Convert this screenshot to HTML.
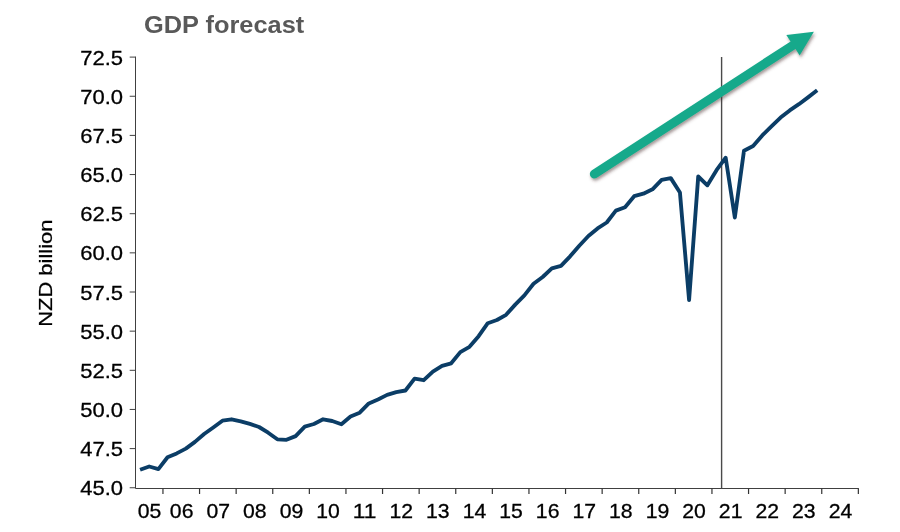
<!DOCTYPE html>
<html><head><meta charset="utf-8"><style>
html,body{margin:0;padding:0;background:#fff;}
svg{display:block;will-change:transform;}
.t{font-family:"Liberation Sans",sans-serif;font-size:20.8px;fill:#000;stroke:#000;stroke-width:0.3px;}
.title{font-family:"Liberation Sans",sans-serif;font-size:23px;font-weight:bold;fill:#595959;}
.yt{font-family:"Liberation Sans",sans-serif;font-size:19.2px;fill:#000;stroke:#000;stroke-width:0.25px;}
</style></head><body>
<svg width="900" height="532" viewBox="0 0 900 532">
<defs><filter id="sh" x="-10%" y="-20%" width="130%" height="150%"><feDropShadow dx="1.2" dy="2.2" stdDeviation="1.5" flood-color="#4a3030" flood-opacity="0.5"/></filter></defs>
<rect width="900" height="532" fill="#fff"/>
<path d="M135.5,56.6 V488.5 H858.8" fill="none" stroke="#404040" stroke-width="1"/>
<path d="M129.7,57.10 H135.5" stroke="#404040" stroke-width="1"/>
<text x="80.3" y="64.70" textLength="42.8" lengthAdjust="spacingAndGlyphs" class="t">72.5</text>
<path d="M129.7,96.25 H135.5" stroke="#404040" stroke-width="1"/>
<text x="80.3" y="103.85" textLength="42.8" lengthAdjust="spacingAndGlyphs" class="t">70.0</text>
<path d="M129.7,135.40 H135.5" stroke="#404040" stroke-width="1"/>
<text x="80.3" y="143.00" textLength="42.8" lengthAdjust="spacingAndGlyphs" class="t">67.5</text>
<path d="M129.7,174.55 H135.5" stroke="#404040" stroke-width="1"/>
<text x="80.3" y="182.15" textLength="42.8" lengthAdjust="spacingAndGlyphs" class="t">65.0</text>
<path d="M129.7,213.70 H135.5" stroke="#404040" stroke-width="1"/>
<text x="80.3" y="221.30" textLength="42.8" lengthAdjust="spacingAndGlyphs" class="t">62.5</text>
<path d="M129.7,252.85 H135.5" stroke="#404040" stroke-width="1"/>
<text x="80.3" y="260.45" textLength="42.8" lengthAdjust="spacingAndGlyphs" class="t">60.0</text>
<path d="M129.7,292.00 H135.5" stroke="#404040" stroke-width="1"/>
<text x="80.3" y="299.60" textLength="42.8" lengthAdjust="spacingAndGlyphs" class="t">57.5</text>
<path d="M129.7,331.15 H135.5" stroke="#404040" stroke-width="1"/>
<text x="80.3" y="338.75" textLength="42.8" lengthAdjust="spacingAndGlyphs" class="t">55.0</text>
<path d="M129.7,370.30 H135.5" stroke="#404040" stroke-width="1"/>
<text x="80.3" y="377.90" textLength="42.8" lengthAdjust="spacingAndGlyphs" class="t">52.5</text>
<path d="M129.7,409.45 H135.5" stroke="#404040" stroke-width="1"/>
<text x="80.3" y="417.05" textLength="42.8" lengthAdjust="spacingAndGlyphs" class="t">50.0</text>
<path d="M129.7,448.60 H135.5" stroke="#404040" stroke-width="1"/>
<text x="80.3" y="456.20" textLength="42.8" lengthAdjust="spacingAndGlyphs" class="t">47.5</text>
<path d="M129.7,487.75 H135.5" stroke="#404040" stroke-width="1"/>
<text x="80.3" y="495.35" textLength="42.8" lengthAdjust="spacingAndGlyphs" class="t">45.0</text>
<path d="M162.95,488.5 V494" stroke="#333" stroke-width="1.2"/>
<path d="M199.55,488.5 V494" stroke="#333" stroke-width="1.2"/>
<path d="M236.15,488.5 V494" stroke="#333" stroke-width="1.2"/>
<path d="M272.75,488.5 V494" stroke="#333" stroke-width="1.2"/>
<path d="M309.35,488.5 V494" stroke="#333" stroke-width="1.2"/>
<path d="M345.95,488.5 V494" stroke="#333" stroke-width="1.2"/>
<path d="M382.55,488.5 V494" stroke="#333" stroke-width="1.2"/>
<path d="M419.15,488.5 V494" stroke="#333" stroke-width="1.2"/>
<path d="M455.75,488.5 V494" stroke="#333" stroke-width="1.2"/>
<path d="M492.35,488.5 V494" stroke="#333" stroke-width="1.2"/>
<path d="M528.95,488.5 V494" stroke="#333" stroke-width="1.2"/>
<path d="M565.55,488.5 V494" stroke="#333" stroke-width="1.2"/>
<path d="M602.15,488.5 V494" stroke="#333" stroke-width="1.2"/>
<path d="M638.75,488.5 V494" stroke="#333" stroke-width="1.2"/>
<path d="M675.35,488.5 V494" stroke="#333" stroke-width="1.2"/>
<path d="M711.95,488.5 V494" stroke="#333" stroke-width="1.2"/>
<path d="M748.55,488.5 V494" stroke="#333" stroke-width="1.2"/>
<path d="M785.15,488.5 V494" stroke="#333" stroke-width="1.2"/>
<path d="M821.75,488.5 V494" stroke="#333" stroke-width="1.2"/>
<path d="M858.35,488.5 V494" stroke="#333" stroke-width="1.2"/>
<text x="137.82" y="518" textLength="23.6" lengthAdjust="spacingAndGlyphs" class="t">05</text>
<text x="169.85" y="518" textLength="23.6" lengthAdjust="spacingAndGlyphs" class="t">06</text>
<text x="206.45" y="518" textLength="23.6" lengthAdjust="spacingAndGlyphs" class="t">07</text>
<text x="243.05" y="518" textLength="23.6" lengthAdjust="spacingAndGlyphs" class="t">08</text>
<text x="279.65" y="518" textLength="23.6" lengthAdjust="spacingAndGlyphs" class="t">09</text>
<text x="316.25" y="518" textLength="23.6" lengthAdjust="spacingAndGlyphs" class="t">10</text>
<text x="352.85" y="518" textLength="23.6" lengthAdjust="spacingAndGlyphs" class="t">11</text>
<text x="389.45" y="518" textLength="23.6" lengthAdjust="spacingAndGlyphs" class="t">12</text>
<text x="426.05" y="518" textLength="23.6" lengthAdjust="spacingAndGlyphs" class="t">13</text>
<text x="462.65" y="518" textLength="23.6" lengthAdjust="spacingAndGlyphs" class="t">14</text>
<text x="499.25" y="518" textLength="23.6" lengthAdjust="spacingAndGlyphs" class="t">15</text>
<text x="535.85" y="518" textLength="23.6" lengthAdjust="spacingAndGlyphs" class="t">16</text>
<text x="572.45" y="518" textLength="23.6" lengthAdjust="spacingAndGlyphs" class="t">17</text>
<text x="609.05" y="518" textLength="23.6" lengthAdjust="spacingAndGlyphs" class="t">18</text>
<text x="645.65" y="518" textLength="23.6" lengthAdjust="spacingAndGlyphs" class="t">19</text>
<text x="682.25" y="518" textLength="23.6" lengthAdjust="spacingAndGlyphs" class="t">20</text>
<text x="718.85" y="518" textLength="23.6" lengthAdjust="spacingAndGlyphs" class="t">21</text>
<text x="755.45" y="518" textLength="23.6" lengthAdjust="spacingAndGlyphs" class="t">22</text>
<text x="792.05" y="518" textLength="23.6" lengthAdjust="spacingAndGlyphs" class="t">23</text>
<text x="828.65" y="518" textLength="23.6" lengthAdjust="spacingAndGlyphs" class="t">24</text>
<path d="M721.6,57 V488.5" stroke="#4a4a4a" stroke-width="1.4"/>
<polyline points="140.07,469.80 149.22,466.50 158.38,469.10 167.53,457.30 176.68,453.40 185.82,448.60 194.97,441.90 204.12,434.00 213.28,427.50 222.43,420.70 231.57,419.30 240.73,421.30 249.88,423.90 259.02,427.00 268.18,432.70 277.33,439.30 286.48,439.80 295.62,436.10 304.77,426.60 313.93,424.00 323.08,419.30 332.23,421.00 341.38,424.20 350.52,416.50 359.68,412.70 368.83,403.40 377.98,399.50 387.12,394.90 396.28,392.20 405.43,390.50 414.57,378.60 423.73,380.20 432.88,371.60 442.03,365.90 451.18,363.30 460.32,352.10 469.48,346.80 478.62,336.20 487.78,323.20 496.93,320.00 506.07,314.80 515.23,304.60 524.38,295.40 533.53,283.80 542.67,277.00 551.83,268.40 560.98,265.90 570.12,256.30 579.28,245.80 588.42,236.00 597.58,228.40 606.73,222.50 615.88,210.60 625.03,207.20 634.17,196.20 643.33,193.70 652.48,189.30 661.62,179.90 670.77,178.10 679.93,192.50 689.08,300.00 698.23,176.50 707.38,185.30 716.52,170.20 725.68,157.70 734.83,217.50 743.98,150.70 753.12,146.00 762.27,135.40 771.43,126.40 780.58,117.60 789.73,110.40 798.88,104.20 808.02,97.40 817.18,90.30" fill="none" stroke="#0b3d66" stroke-width="3.85" stroke-linejoin="round" stroke-linecap="butt"/>
<g filter="url(#sh)"><line x1="594.4" y1="174.0" x2="793.85" y2="44.70" stroke="#18a98b" stroke-width="9.1" stroke-linecap="round"/><polygon points="813.9,31.7 799.70,55.57 786.32,34.92" fill="#18a98b"/></g>
<text x="144" y="32.6" textLength="160.2" lengthAdjust="spacingAndGlyphs" class="title">GDP forecast</text>
<text transform="translate(52.4,326.8) rotate(-90)" x="0" y="0" textLength="107.2" lengthAdjust="spacingAndGlyphs" class="yt">NZD billion</text>
</svg>
</body></html>
